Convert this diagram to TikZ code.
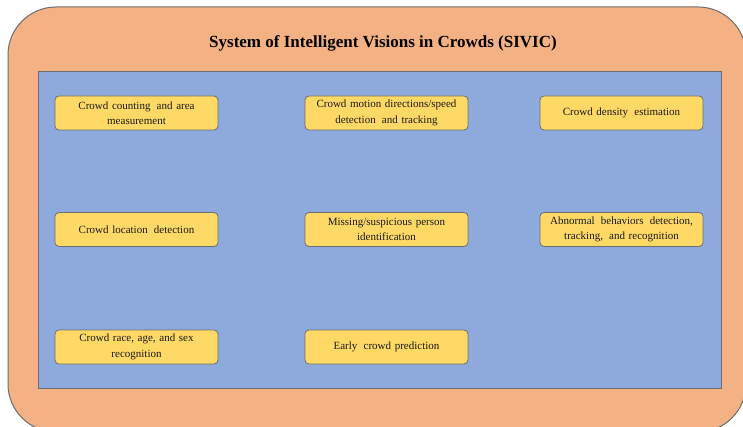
\documentclass[tikz,border=0pt]{standalone}
\usepackage{fontspec}
\setmainfont{Liberation Serif}
\definecolor{outerfill}{HTML}{F4B183}
\definecolor{innerfill}{HTML}{8EA9DB}
\definecolor{boxfill}{HTML}{FFD966}
\definecolor{edgegray}{HTML}{6E6E6E}
\newcommand{\xsp}{\hspace{2.5pt}}
\begin{document}
\begin{tikzpicture}[x=1pt,y=-1pt,
  itembox/.style={draw=edgegray, line width=0.8pt, fill=boxfill, rounded corners=4pt,
    minimum width=163pt, minimum height=34pt, inner sep=2pt, align=center,
    text width=155pt, font=\fontsize{11}{15.5}\selectfont, text=black!90},
]
\useasboundingbox (0,0) rectangle (743,427);
\fill[white] (0,0) rectangle (743,427);
\draw[draw=edgegray, line width=1pt, fill=outerfill, rounded corners=48pt] (8,7) rectangle (746,432);
\node[draw=edgegray, line width=0.8pt, fill=innerfill, minimum width=683pt, minimum height=317pt, inner sep=0pt] (inner) at (379.5,229.5) {};
\node[font=\fontsize{17}{19}\selectfont\bfseries, text=black] (title) at (383,43) {System of Intelligent Visions in Crowds (SIVIC)};
\node[itembox] (b1) at (136.5,113) {Crowd counting\xsp{} and area\\measurement};
\node[itembox] (b2) at (386.5,113) {Crowd motion directions/speed\\detection\xsp{} and tracking};
\node[itembox] (b3) at (621.5,113) {Crowd density\xsp{} estimation};
\node[itembox] (b4) at (136.5,229.5) {Crowd location\xsp{} detection};
\node[itembox] (b5) at (386.5,229.5) {Missing/suspicious person\\identification};
\node[itembox] (b6) at (621.5,229.5) {Abnormal\xsp{} behaviors\xsp{} detection,\\tracking,\xsp{} and recognition};
\node[itembox] (b7) at (136.5,347) {Crowd race, age, and sex\\recognition};
\node[itembox] (b8) at (386.5,347) {Early\xsp{} crowd prediction};
\end{tikzpicture}
\end{document}
